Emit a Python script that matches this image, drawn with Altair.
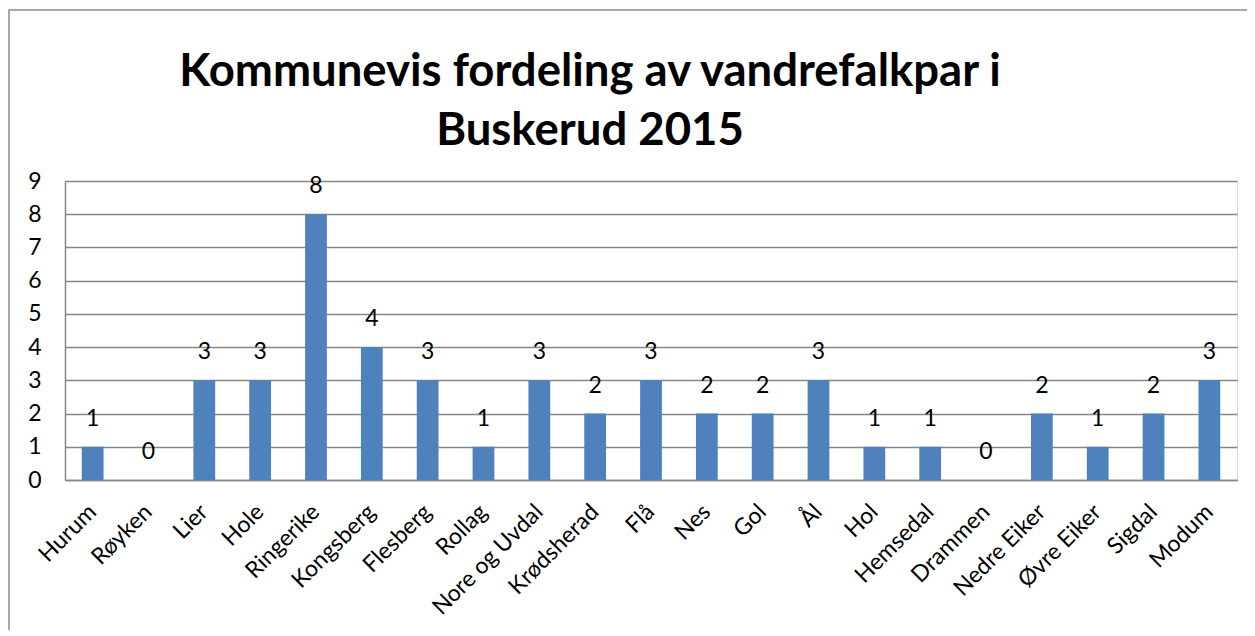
import altair as alt
import pandas as pd

categories = ["Hurum", "Røyken", "Lier", "Hole", "Ringerike", "Kongsberg", "Flesberg",
              "Rollag", "Nore og Uvdal", "Krødsherad", "Flå", "Nes", "Gol", "Ål", "Hol",
              "Hemsedal", "Drammen", "Nedre Eiker", "Øvre Eiker", "Sigdal", "Modum"]
values = [1, 0, 3, 3, 8, 4, 3, 1, 3, 2, 3, 2, 2, 3, 1, 1, 0, 2, 1, 2, 3]
y_ticks = [0, 1, 2, 3, 4, 5, 6, 7, 8, 9]
title_line1 = "Kommunevis fordeling av vandrefalkpar i"
title_line2 = "Buskerud 2015"

df = pd.DataFrame({"kommune": categories, "par": values})

FONT = "Lato"
GRID = "#868686"
BLUE = "#4F81BD"

x_enc = alt.X("kommune:N", sort=categories, title=None,
              scale=alt.Scale(paddingInner=0.61, paddingOuter=0.3),
              axis=alt.Axis(labelAngle=-45, labelAlign="right", labelBaseline="middle",
                            labelFontSize=23, labelFont=FONT, labelColor="black",
                            labelPadding=28, ticks=False, domainColor=GRID,
                            domainWidth=1.5, grid=False, labelOverlap=False))
y_enc = alt.Y("par:Q", title=None,
              scale=alt.Scale(domain=[0, 9], nice=False),
              axis=alt.Axis(values=y_ticks, labelFontSize=23, labelFont=FONT,
                            labelColor="black", labelPadding=24, ticks=False,
                            labelOverlap=False,
                            domainColor=GRID, domainWidth=1.5, gridColor=GRID,
                            gridWidth=1.5, format="d"))

bars = alt.Chart(df).mark_bar(color=BLUE).encode(x=x_enc, y=y_enc)

labels = alt.Chart(df).mark_text(fontSize=23, font=FONT, color="black",
                                 baseline="middle", dy=-28).encode(
    x=x_enc, y=y_enc,
    text=alt.Text("par:Q", format="d"))

one = alt.Data(values=[{}])
frame = alt.Chart(one).mark_rect(
    fillOpacity=0, stroke="#8C8C8C", strokeWidth=1.5).encode(
    x=alt.value(-56), x2=alt.value(1400), y=alt.value(-171), y2=alt.value(800))

t1 = alt.Chart(one).mark_text(fontSize=45.5, font=FONT, fontWeight="bold", color="black",
                              align="center", baseline="alphabetic").encode(
    x=alt.value(525), y=alt.value(-95), text=alt.value(title_line1))
t2 = alt.Chart(one).mark_text(fontSize=45.5, font=FONT, fontWeight="bold", color="black",
                              align="center", baseline="alphabetic").encode(
    x=alt.value(525), y=alt.value(-36), text=alt.value(title_line2))

chart = alt.layer(frame, bars, labels, t1, t2).properties(
    width=1172, height=299,
    autosize=alt.AutoSizeParams(type="none"),
    padding={"left": 57, "top": 173, "right": 10, "bottom": 150},
).configure_view(stroke=None).configure(background="white")

chart.save("out.html", embed_options={"renderer": "svg", "actions": False})
